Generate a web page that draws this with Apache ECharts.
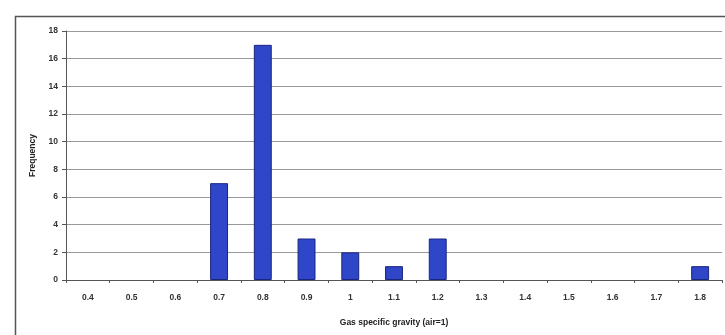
<!DOCTYPE html>
<html>
<head>
<meta charset="utf-8">
<script src="https://cdn.jsdelivr.net/npm/echarts@6/dist/echarts.min.js"></script>
<style>html,body{margin:0;padding:0;background:#fff}#c{width:725px;height:335px}</style>
</head>
<body>
<div id="c"></div>
<script>
const categories = ['0.4','0.5','0.6','0.7','0.8','0.9','1','1.1','1.2','1.3','1.4','1.5','1.6','1.7','1.8'];
const frequency = [0,0,0,7,17,3,2,1,3,0,0,0,0,0,1];
const yTicks = [0,2,4,6,8,10,12,14,16,18];
const xTitle = 'Gas specific gravity (air=1)';
const yTitle = 'Frequency';

const chart = echarts.init(document.getElementById('c'));
const font = 'Liberation Sans, Arial, sans-serif';
chart.setOption({
  animation: false,
  backgroundColor: '#fff',
  graphic: [{
    type: 'rect', left: 13, top: 14, z: -1,
    shape: {width: 730, height: 340},
    style: {fill: 'none', stroke: '#555', lineWidth: 1.5}
  }],
  grid: {left: 66, top: 31, right: 3, bottom: 55, containLabel: false},
  xAxis: {
    type: 'category', data: categories,
    name: xTitle, nameLocation: 'middle', nameGap: 38,
    nameTextStyle: {fontFamily: font, fontSize: 8.5, fontWeight: 'bold', color: '#222'},
    axisLine: {lineStyle: {color: '#555', width: 1}},
    axisTick: {show: true, length: 3, lineStyle: {color: '#555'}},
    axisLabel: {fontFamily: font, fontSize: 8.5, fontWeight: 'bold', color: '#333', margin: 13}
  },
  yAxis: {
    type: 'value', min: yTicks[0], max: yTicks[yTicks.length-1], interval: 2,
    name: yTitle, nameLocation: 'middle', nameGap: 27, nameRotate: 90,
    nameTextStyle: {fontFamily: font, fontSize: 8.5, fontWeight: 'bold', color: '#222'},
    axisLine: {show: true, lineStyle: {color: '#555', width: 1}},
    axisTick: {show: true, length: 4, lineStyle: {color: '#555'}},
    axisLabel: {fontFamily: font, fontSize: 8.5, fontWeight: 'bold', color: '#333', margin: 8},
    splitLine: {lineStyle: {color: '#999', width: 1.2}}
  },
  series: [{
    type: 'bar', data: frequency.map(v => v === 0 ? null : v), barWidth: '41%',
    itemStyle: {color: '#2f46c9', borderColor: '#1a2580', borderWidth: 1}
  }]
});
</script>
</body>
</html>
